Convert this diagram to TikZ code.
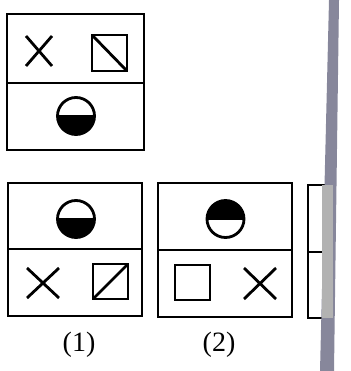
\documentclass[tikz,border=0pt]{standalone}
\usepackage{fontspec}
\setmainfont{Liberation Serif}
\definecolor{shadow}{RGB}{135,135,155}
\begin{document}
\begin{tikzpicture}[x=1pt,y=-1pt,
  frame/.style={draw=black,line width=1.8pt},
  sym/.style={draw=black,line width=2.8pt},
  lbl/.style={font=\fontsize{28pt}{32pt}\selectfont,inner sep=0pt}]
\useasboundingbox (0,0) rectangle (350,371);
% question figure
\draw[frame] (7,14) rectangle (144,150);
\draw[frame] (7,83) -- (144,83);
\draw[sym] (26,36) -- (52,66) (26,66) -- (52,36);
\draw[sym] (92,35) rectangle (127,71);
\draw[sym] (92,35) -- (127,71);
\fill (57.5,116) arc[start angle=180,end angle=0,radius=18.5] -- cycle;
\draw[sym] (76,116) circle[radius=18.5];
\draw[sym] (57.5,116) -- (94.5,116);
% option 1
\draw[frame] (8,183) rectangle (142,316);
\draw[frame] (8,249) -- (142,249);
\fill (57.5,219) arc[start angle=180,end angle=0,radius=18.5] -- cycle;
\draw[sym] (76,219) circle[radius=18.5];
\draw[sym] (57.5,219) -- (94.5,219);
\draw[sym] (27,268) -- (59,298) (27,298) -- (59,268);
\draw[sym] (93,264) rectangle (128,299);
\draw[sym] (93,299) -- (128,264);
\node[lbl] (l1) at (79,345) {(1)};
% option 2
\draw[frame] (158,183) rectangle (292,317);
\draw[frame] (158,250) -- (292,250);
\fill (207,219) arc[start angle=180,end angle=360,radius=18.5] -- cycle;
\draw[sym] (225.5,219) circle[radius=18.5];
\draw[sym] (207,219) -- (244,219);
\draw[sym] (175,265) rectangle (210,300);
\draw[sym] (244,268) -- (276,299) (244,299) -- (276,268);
\node[lbl] (l2) at (219,345) {(2)};
% partial option 3
\draw[frame] (330,185) -- (308,185) -- (308,318) -- (330,318);
\draw[frame] (308,252) -- (330,252);
% page shadow
\fill[shadow] (329,0) -- (339,0) -- (334,371) -- (320,371) -- cycle;
\fill[gray!60] (322,185) -- (333,185) -- (333,318) -- (322,318) -- cycle;
\end{tikzpicture}
\end{document}
